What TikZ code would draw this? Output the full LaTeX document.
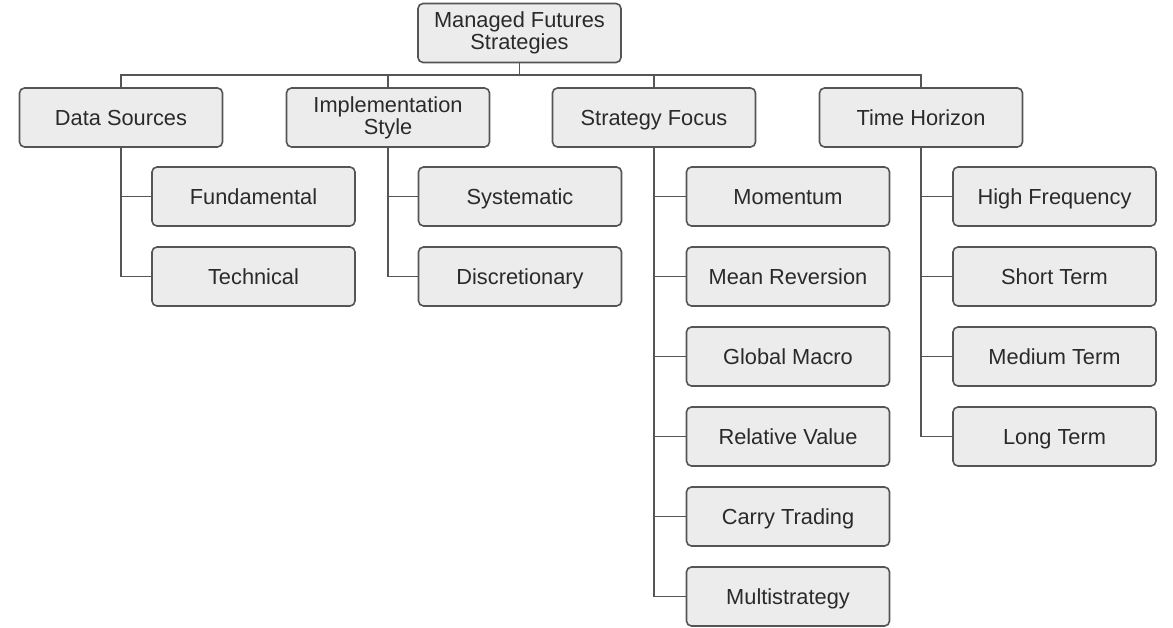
\documentclass[tikz,border=0pt]{standalone}
\usepackage{fontspec}
\setmainfont{Liberation Sans}
\definecolor{boxfill}{HTML}{ECECEC}
\definecolor{boxline}{HTML}{555555}
\definecolor{txt}{HTML}{2A2A2A}
\begin{document}
\begin{tikzpicture}[x=1pt,y=-1pt,
  box/.style={draw=boxline, fill=boxfill, line width=1.6pt, rounded corners=5pt,
    minimum width=203pt, minimum height=59pt, inner sep=0pt, align=center,
    text=txt, font=\fontsize{21.8}{22}\selectfont},
  onebox/.style={box, text height=15.6pt, text depth=0pt},
  conn/.style={draw=boxline, line width=1.6pt}]
\useasboundingbox (0,0) rectangle (1173,628);
\fill[white] (0,0) rectangle (1173,628);
\node[box] (root) at (519.5,33) {Managed Futures\\Strategies};
\node[onebox] (ds) at (121,117.5) {Data Sources};
\node[box] (im) at (388,117.5) {Implementation\\Style};
\node[onebox] (sf) at (654,117.5) {Strategy Focus};
\node[onebox] (th) at (921,117.5) {Time Horizon};
\coordinate (bar) at (519.5,75);
% level 2
\node[onebox] (fu) at (253.5,196.5) {Fundamental};
\node[onebox] (te) at (253.5,276.5) {Technical};
\node[onebox] (sy) at (520,196.5) {Systematic};
\node[onebox] (di) at (520,276.5) {Discretionary};
\node[onebox] (mo) at (788,196.5) {Momentum};
\node[onebox] (mr) at (788,276.5) {Mean Reversion};
\node[onebox] (gm) at (788,356.5) {Global Macro};
\node[onebox] (rv) at (788,436.5) {Relative Value};
\node[onebox] (ct) at (788,516.5) {Carry Trading};
\node[onebox] (ms) at (788,596.5) {Multistrategy};
\node[onebox] (hf) at (1054.5,196.5) {High Frequency};
\node[onebox] (st) at (1054.5,276.5) {Short Term};
\node[onebox] (mt) at (1054.5,356.5) {Medium Term};
\node[onebox] (lt) at (1054.5,436.5) {Long Term};
% top connectors
\draw[conn] (root.south) -- (bar);
\draw[conn] (ds.north) -- (ds.north |- bar) -- (th.north |- bar) -- (th.north);
\draw[conn] (im.north) -- (im.north |- bar);
\draw[conn] (sf.north) -- (sf.north |- bar);
% children
\foreach \p/\c in {ds/fu, ds/te, im/sy, im/di, sf/mo, sf/mr, sf/gm, sf/rv, sf/ct, sf/ms, th/hf, th/st, th/mt, th/lt}
  \draw[conn] (\p.south) |- (\c.west);
\end{tikzpicture}
\end{document}
